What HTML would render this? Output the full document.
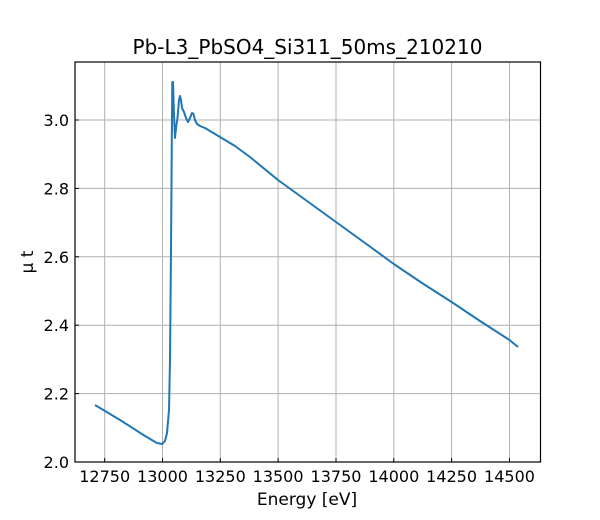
<!DOCTYPE html>
<html><head><meta charset="utf-8"><style>
html,body{margin:0;padding:0;background:#fff;}
svg{display:block;font-family:"DejaVu Sans","Liberation Sans",sans-serif;}
</style></head><body>
<svg width="600" height="520" viewBox="0 0 600 520" xmlns="http://www.w3.org/2000/svg">
<rect width="600" height="520" fill="#fff"/>
<g stroke="#b0b0b0" stroke-width="1">
<line x1="104.7" y1="62" x2="104.7" y2="462"/>
<line x1="162.5" y1="62" x2="162.5" y2="462"/>
<line x1="220.3" y1="62" x2="220.3" y2="462"/>
<line x1="278.1" y1="62" x2="278.1" y2="462"/>
<line x1="336" y1="62" x2="336" y2="462"/>
<line x1="393.8" y1="62" x2="393.8" y2="462"/>
<line x1="451.6" y1="62" x2="451.6" y2="462"/>
<line x1="509.5" y1="62" x2="509.5" y2="462"/>
<line x1="75" y1="393.6" x2="540.5" y2="393.6"/>
<line x1="75" y1="325.2" x2="540.5" y2="325.2"/>
<line x1="75" y1="256.8" x2="540.5" y2="256.8"/>
<line x1="75" y1="188.4" x2="540.5" y2="188.4"/>
<line x1="75" y1="120" x2="540.5" y2="120"/>
</g>
<g stroke="#000" stroke-width="1">
<line x1="104.7" y1="462" x2="104.7" y2="458"/>
<line x1="162.5" y1="462" x2="162.5" y2="458"/>
<line x1="220.3" y1="462" x2="220.3" y2="458"/>
<line x1="278.1" y1="462" x2="278.1" y2="458"/>
<line x1="336" y1="462" x2="336" y2="458"/>
<line x1="393.8" y1="462" x2="393.8" y2="458"/>
<line x1="451.6" y1="462" x2="451.6" y2="458"/>
<line x1="509.5" y1="462" x2="509.5" y2="458"/>
<line x1="75" y1="462" x2="79" y2="462"/>
<line x1="75" y1="393.6" x2="79" y2="393.6"/>
<line x1="75" y1="325.2" x2="79" y2="325.2"/>
<line x1="75" y1="256.8" x2="79" y2="256.8"/>
<line x1="75" y1="188.4" x2="79" y2="188.4"/>
<line x1="75" y1="120" x2="79" y2="120"/>
</g>
<path d="M95,405 L120,420 L145,436 L157,443 L162,444 L165,441 L167,433 L169,410 L170,360 L171,250 L171.8,140 L172.3,82 L173,82 L174,115 L175,138 L176,128 L177.5,118 L179,100 L180,96 L181,100 L182,108 L184,112 L186,118 L188,122 L190,118 L192,113 L193.5,114 L195,120 L197,124 L200,126 L205,128 L210,131 L215,134 L220,137 L235,146 L250,157 L278,180 L307,201 L336,222 L365,243 L393.8,264 L422,283 L451.6,302 L480,321 L509.5,340 L518,347" fill="none" stroke="#1f77b4" stroke-width="2" stroke-linejoin="round"/>
<rect x="75" y="62" width="465.5" height="400" fill="none" stroke="#000" stroke-width="1.2"/>
<g font-size="16" fill="#000" text-anchor="middle">
<text x="104.7" y="482">12750</text>
<text x="162.5" y="482">13000</text>
<text x="220.3" y="482">13250</text>
<text x="278.1" y="482">13500</text>
<text x="336" y="482">13750</text>
<text x="393.8" y="482">14000</text>
<text x="451.6" y="482">14250</text>
<text x="509.5" y="482">14500</text>
</g>
<g font-size="16" fill="#000" text-anchor="end">
<text x="69" y="468">2.0</text>
<text x="69" y="399.6">2.2</text>
<text x="69" y="331.2">2.4</text>
<text x="69" y="262.8">2.6</text>
<text x="69" y="194.4">2.8</text>
<text x="69" y="126">3.0</text>
</g>
<text x="307" y="505" font-size="17" text-anchor="middle">Energy [eV]</text>
<text transform="translate(33,262) rotate(-90)" font-size="17" text-anchor="middle">μ t</text>
<text x="307.5" y="54" font-size="20" text-anchor="middle">Pb-L3_PbSO4_Si311_50ms_210210</text>
</svg>
</body></html>
